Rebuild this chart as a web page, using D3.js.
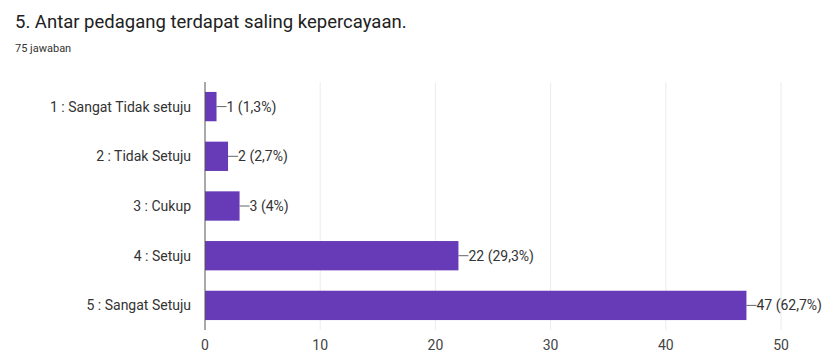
<!DOCTYPE html>
<html>
<head>
<meta charset="utf-8">
<script src="https://cdn.jsdelivr.net/npm/d3@7"></script>
<style>
  body { margin: 0; background: #fff; }
  svg { font-family: Roboto, "Noto Sans", sans-serif; }
</style>
</head>
<body>
<svg id="chart" width="833" height="352"></svg>
<script>
const categories = ["1 : Sangat Tidak setuju", "2 : Tidak Setuju", "3 : Cukup", "4 : Setuju", "5 : Sangat Setuju"]
const counts = [1, 2, 3, 22, 47]
const percent_labels = ["1,3%", "2,7%", "4%", "29,3%", "62,7%"]
const x_ticks = [0, 10, 20, 30, 40, 50]

const width = 833
const height = 352
const left = 205
const right = 781
const top_y = 82
const bottom_y = 330
const bar_color = "#673ab7"

var svg = d3.select("#chart")

// title + response count
svg.append("text")
    .attr("x", 15).attr("y", 28)
    .attr("font-size", 18.5)
    .attr("fill", "#212121")
    .text("5. Antar pedagang terdapat saling kepercayaan.")
svg.append("text")
    .attr("x", 15).attr("y", 52)
    .attr("font-size", 11)
    .attr("fill", "#333")
    .text("75 jawaban")

var xScale = d3.scaleLinear().domain([0, 50]).range([left, right])
var yScale = d3.scaleBand().domain(categories).range([top_y, bottom_y]).paddingInner(0.41).paddingOuter(0.2)

// light vertical grid
svg.append("g")
    .selectAll("line")
    .data(x_ticks.slice(1))
    .join("line")
        .attr("x1", d => xScale(d)).attr("x2", d => xScale(d))
        .attr("y1", top_y).attr("y2", bottom_y)
        .attr("stroke", "#ececec")
        .attr("stroke-width", 1)

// tick labels
svg.append("g")
    .selectAll("text")
    .data(x_ticks)
    .join("text")
        .attr("x", d => xScale(d))
        .attr("y", 350)
        .attr("text-anchor", "middle")
        .attr("font-size", 14)
        .attr("fill", "#444")
        .text(d => d)

var data = categories.map((c, i) => ({ cat: c, n: counts[i], pct: percent_labels[i] }))

svg.append("g")
    .selectAll("rect")
    .data(data)
    .join("rect")
        .attr("x", xScale(0))
        .attr("y", d => yScale(d.cat))
        .attr("width", d => xScale(d.n) - xScale(0))
        .attr("height", yScale.bandwidth())
        .attr("fill", bar_color)

// zero axis line
svg.append("line")
    .attr("x1", xScale(0)).attr("x2", xScale(0))
    .attr("y1", top_y).attr("y2", bottom_y)
    .attr("stroke", "#555")
    .attr("stroke-width", 1)

// category labels
svg.append("g")
    .selectAll("text")
    .data(data)
    .join("text")
        .attr("x", 191)
        .attr("y", d => yScale(d.cat) + yScale.bandwidth() / 2)
        .attr("dy", "0.35em")
        .attr("text-anchor", "end")
        .attr("font-size", 14)
        .attr("fill", "#333")
        .text(d => d.cat)

// value annotations with leader line
var ann = svg.append("g")
    .selectAll("g")
    .data(data)
    .join("g")
        .attr("transform", d => "translate(" + xScale(d.n) + "," + (yScale(d.cat) + yScale.bandwidth() / 2) + ")")
ann.append("line")
    .attr("x1", 0).attr("x2", 10)
    .attr("stroke", "#666")
ann.append("text")
    .attr("x", 10)
    .attr("dy", "0.35em")
    .attr("font-size", 14)
    .attr("fill", "#333")
    .text(d => d.n + " (" + d.pct + ")")
</script>
</body>
</html>
